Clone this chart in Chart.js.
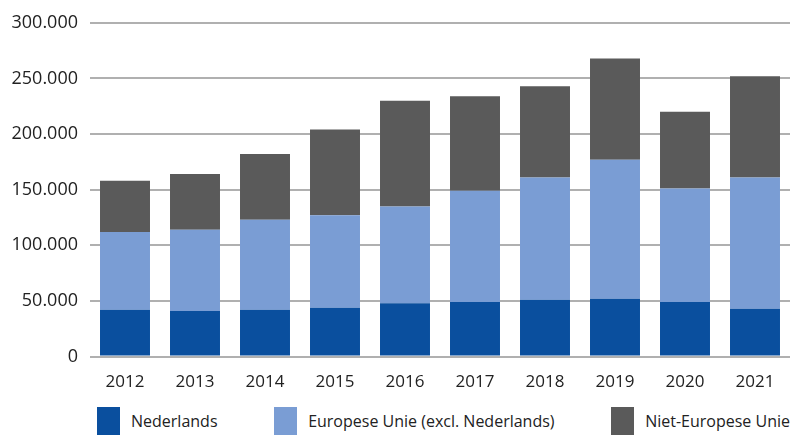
<!DOCTYPE html>
<html>
<head>
<meta charset="utf-8">
<script src="https://cdn.jsdelivr.net/npm/chart.js@4"></script>
<style>
  html, body { margin: 0; padding: 0; background: #fff; }
  #wrap { position: relative; width: 791px; height: 439px; }
  #legend {
    position: absolute; left: 97px; right: 1px; top: 407px; height: 28px;
    display: flex; justify-content: space-between; align-items: center;
    font-family: "Open Sans", sans-serif; font-size: 16px; color: #222;
  }
  .item { display: flex; align-items: center; }
  .box { width: 23px; height: 28px; margin-right: 11px; }
</style>
</head>
<body>
<div id="wrap">
  <canvas id="chart" width="791" height="399"></canvas>
  <div id="legend"></div>
</div>
<script>
// jaren
const years = ["2012", "2013", "2014", "2015", "2016", "2017", "2018", "2019", "2020", "2021"];

const nederlands = [42000, 41000, 42000, 44000, 48000, 49000, 51000, 52000, 49000, 43000];
const europeseUnie = [70000, 73000, 81000, 83000, 87000, 100000, 110000, 125000, 102000, 118000];
const nietEuropees = [46000, 50000, 59000, 77000, 95000, 85000, 82000, 91000, 69000, 91000];

const seriesNames = ["Nederlands", "Europese Unie (excl. Nederlands)", "Niet-Europese Unie"];
const seriesColors = ["#0a4f9e", "#7a9dd4", "#5a5a5a"];

const yTicks = [0, 50000, 100000, 150000, 200000, 250000, 300000];

// 300000 -> "300.000"
function formatNL(v) {
  return String(v).replace(/\B(?=(\d{3})+(?!\d))/g, ".");
}

const ctx = document.getElementById("chart").getContext("2d");
const chart = new Chart(ctx, {
  type: "bar",
  data: {
    labels: years,
    datasets: [
      { label: seriesNames[0], data: nederlands, backgroundColor: seriesColors[0] },
      { label: seriesNames[1], data: europeseUnie, backgroundColor: seriesColors[1] },
      { label: seriesNames[2], data: nietEuropees, backgroundColor: seriesColors[2] },
    ],
  },
  options: {
    responsive: false,
    animation: false,
    layout: { padding: { left: 0, right: 1, top: 12, bottom: 0 } },
    datasets: {
      bar: { barPercentage: 0.714, categoryPercentage: 1 },
    },
    plugins: {
      tooltip: { enabled: false },
      legend: { display: false },
    },
    scales: {
      x: {
        stacked: true,
        grid: { display: false },
        border: { display: false },
        ticks: { color: "#222", font: { family: "Open Sans", size: 17 }, padding: 7 },
      },
      y: {
        stacked: true,
        min: 0,
        max: 300000,
        afterFit: (scale) => { scale.width = 90; },
        afterBuildTicks: (scale) => { scale.ticks = yTicks.map((v) => ({ value: v })); },
        grid: { color: "#b0b0b0", lineWidth: 2, drawTicks: false },
        border: { display: false },
        ticks: {
          color: "#222",
          font: { family: "Open Sans", size: 18 },
          padding: 12,
          callback: (v) => formatNL(v),
        },
      },
    },
  },
});

// legenda onder de grafiek, uit de datasets
const legend = document.getElementById("legend");
for (const ds of chart.data.datasets) {
  const item = document.createElement("div");
  item.className = "item";
  item.innerHTML = `<span class="box" style="background:${ds.backgroundColor}"></span><span>${ds.label}</span>`;
  legend.appendChild(item);
}
</script>
</body>
</html>
